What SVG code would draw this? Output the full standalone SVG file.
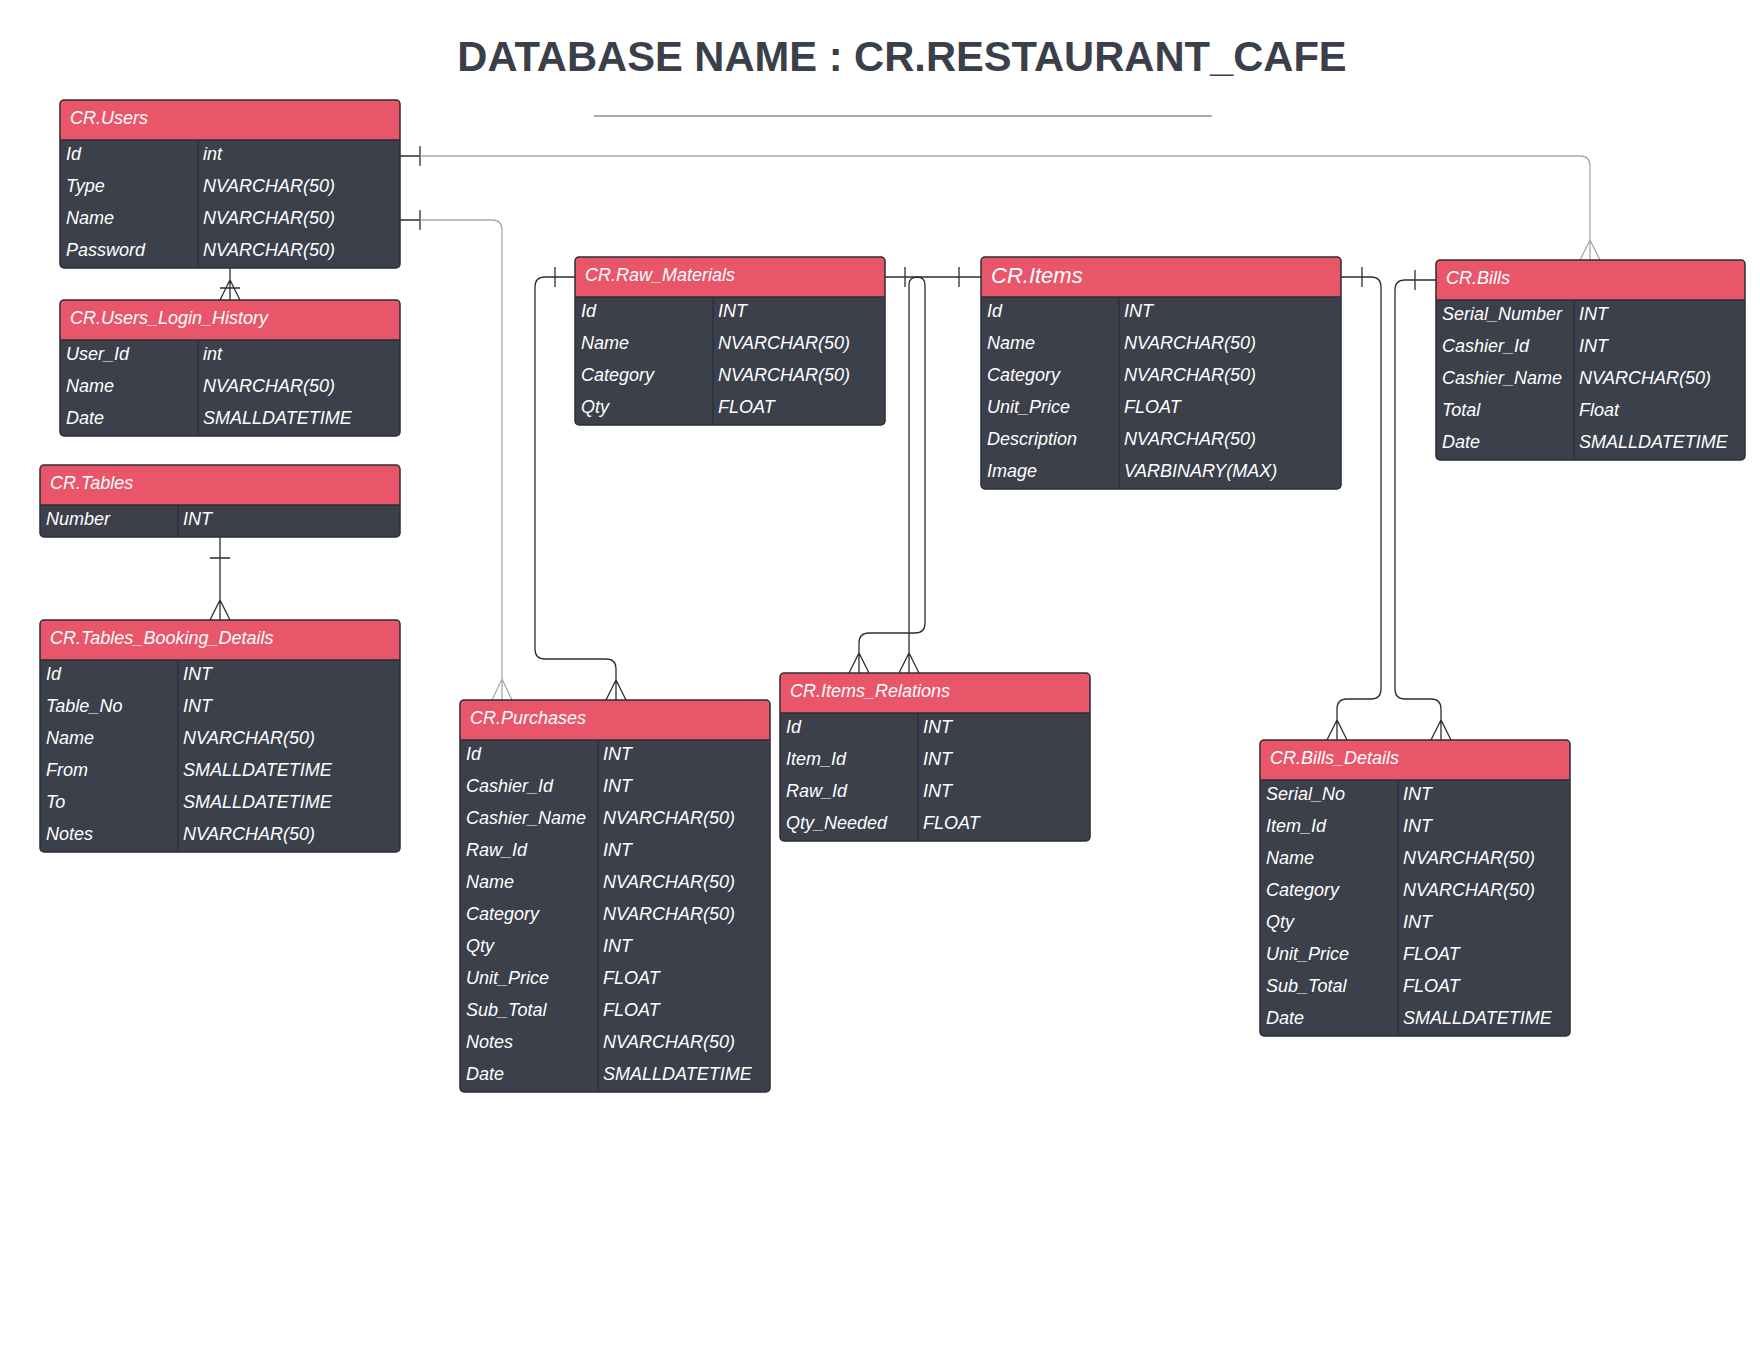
<svg xmlns="http://www.w3.org/2000/svg" width="1760" height="1360" viewBox="0 0 1760 1360">
<style>
.bg{fill:#ffffff}
.body{fill:#3c404b}
.hdr{fill:#e9566a}
.frame{fill:none;stroke:#2b2e36;stroke-width:1.5}
.sep{stroke:#2b2e36;stroke-width:1.5}
.div{stroke:#2b2e36;stroke-width:1.2}
.t{font-family:"Liberation Sans",Arial,sans-serif;font-style:italic;font-size:18px;fill:#ffffff}
.big{font-size:22px}
.title{font-family:"Liberation Sans",Arial,sans-serif;font-weight:bold;font-size:41.7px;fill:#3a3f4a}
.c{fill:none;stroke:#2b2e36;stroke-width:1.3}
.g{fill:none;stroke:#a6a9ae;stroke-width:1.3}
</style>
<rect class="bg" x="0" y="0" width="1760" height="1360"/>
<g id="title">
<text class="title" x="902" y="71" text-anchor="middle">DATABASE NAME : CR.RESTAURANT_CAFE</text>
<line x1="594" y1="116" x2="1212" y2="116" stroke="#a8adb5" stroke-width="2"/>
</g>
<g id="connectors">
<path class="c" d="M230,268 V300 M220,300 L230,280 L240,300 M220,288 H240"/>
<path class="c" d="M220,537 V620 M210,558 H230 M210,620 L220,600 L230,620"/>
<path class="c" d="M400,156 H420 M420,146 V166"/>
<path class="g" d="M420,156 H1580 Q1590,156 1590,166 V260 M1580,260 L1590,240 L1600,260"/>
<path class="c" d="M400,220 H420 M420,210 V230"/>
<path class="g" d="M420,220 H492 Q502,220 502,230 V700 M492,700 L502,679 L512,700"/>
<path class="c" d="M575,277 H545 Q535,277 535,287 V649 Q535,659 545,659 H606 Q616,659 616,669 V700 M555,267 V287 M606,700 L616,680 L626,700"/>
<path class="c" d="M885,277 H917 Q925,277 925,285 V623 Q925,633 915,633 H869 Q859,633 859,643 V673 M905,267 V287 M849,673 L859,653 L869,673"/>
<path class="c" d="M981,277 H917 Q909,277 909,285 V673 M959,267 V287 M899,673 L909,653 L919,673"/>
<path class="c" d="M1341,277 H1371 Q1381,277 1381,287 V689 Q1381,699 1371,699 H1347 Q1337,699 1337,709 V740 M1362,267 V287 M1327,740 L1337,720 L1347,740"/>
<path class="c" d="M1436,280 H1405 Q1395,280 1395,290 V689 Q1395,699 1405,699 H1431 Q1441,699 1441,709 V740 M1415,270 V290 M1431,740 L1441,720 L1451,740"/>
</g>

<g id="users">
<rect class="body" x="60" y="100" width="340" height="168" rx="4"/>
<path class="hdr" d="M60,140 V104 Q60,100 64,100 H396 Q400,100 400,104 V140 Z"/>
<line class="sep" x1="60" y1="140" x2="400" y2="140"/>
<line class="div" x1="198" y1="140" x2="198" y2="268"/>
<rect class="frame" x="60" y="100" width="340" height="168" rx="4"/>
<text class="t" x="70" y="124">CR.Users</text>
<text class="t" x="66" y="160">Id</text><text class="t" x="203" y="160">int</text>
<text class="t" x="66" y="192">Type</text><text class="t" x="203" y="192">NVARCHAR(50)</text>
<text class="t" x="66" y="224">Name</text><text class="t" x="203" y="224">NVARCHAR(50)</text>
<text class="t" x="66" y="256">Password</text><text class="t" x="203" y="256">NVARCHAR(50)</text>
</g>

<g id="users_login_history">
<rect class="body" x="60" y="300" width="340" height="136" rx="4"/>
<path class="hdr" d="M60,340 V304 Q60,300 64,300 H396 Q400,300 400,304 V340 Z"/>
<line class="sep" x1="60" y1="340" x2="400" y2="340"/>
<line class="div" x1="198" y1="340" x2="198" y2="436"/>
<rect class="frame" x="60" y="300" width="340" height="136" rx="4"/>
<text class="t" x="70" y="324">CR.Users_Login_History</text>
<text class="t" x="66" y="360">User_Id</text><text class="t" x="203" y="360">int</text>
<text class="t" x="66" y="392">Name</text><text class="t" x="203" y="392">NVARCHAR(50)</text>
<text class="t" x="66" y="424">Date</text><text class="t" x="203" y="424">SMALLDATETIME</text>
</g>

<g id="tables">
<rect class="body" x="40" y="465" width="360" height="72" rx="4"/>
<path class="hdr" d="M40,505 V469 Q40,465 44,465 H396 Q400,465 400,469 V505 Z"/>
<line class="sep" x1="40" y1="505" x2="400" y2="505"/>
<line class="div" x1="178" y1="505" x2="178" y2="537"/>
<rect class="frame" x="40" y="465" width="360" height="72" rx="4"/>
<text class="t" x="50" y="489">CR.Tables</text>
<text class="t" x="46" y="525">Number</text><text class="t" x="183" y="525">INT</text>
</g>

<g id="tables_booking_details">
<rect class="body" x="40" y="620" width="360" height="232" rx="4"/>
<path class="hdr" d="M40,660 V624 Q40,620 44,620 H396 Q400,620 400,624 V660 Z"/>
<line class="sep" x1="40" y1="660" x2="400" y2="660"/>
<line class="div" x1="178" y1="660" x2="178" y2="852"/>
<rect class="frame" x="40" y="620" width="360" height="232" rx="4"/>
<text class="t" x="50" y="644">CR.Tables_Booking_Details</text>
<text class="t" x="46" y="680">Id</text><text class="t" x="183" y="680">INT</text>
<text class="t" x="46" y="712">Table_No</text><text class="t" x="183" y="712">INT</text>
<text class="t" x="46" y="744">Name</text><text class="t" x="183" y="744">NVARCHAR(50)</text>
<text class="t" x="46" y="776">From</text><text class="t" x="183" y="776">SMALLDATETIME</text>
<text class="t" x="46" y="808">To</text><text class="t" x="183" y="808">SMALLDATETIME</text>
<text class="t" x="46" y="840">Notes</text><text class="t" x="183" y="840">NVARCHAR(50)</text>
</g>

<g id="raw_materials">
<rect class="body" x="575" y="257" width="310" height="168" rx="4"/>
<path class="hdr" d="M575,297 V261 Q575,257 579,257 H881 Q885,257 885,261 V297 Z"/>
<line class="sep" x1="575" y1="297" x2="885" y2="297"/>
<line class="div" x1="713" y1="297" x2="713" y2="425"/>
<rect class="frame" x="575" y="257" width="310" height="168" rx="4"/>
<text class="t" x="585" y="281">CR.Raw_Materials</text>
<text class="t" x="581" y="317">Id</text><text class="t" x="718" y="317">INT</text>
<text class="t" x="581" y="349">Name</text><text class="t" x="718" y="349">NVARCHAR(50)</text>
<text class="t" x="581" y="381">Category</text><text class="t" x="718" y="381">NVARCHAR(50)</text>
<text class="t" x="581" y="413">Qty</text><text class="t" x="718" y="413">FLOAT</text>
</g>

<g id="items">
<rect class="body" x="981" y="257" width="360" height="232" rx="4"/>
<path class="hdr" d="M981,297 V261 Q981,257 985,257 H1337 Q1341,257 1341,261 V297 Z"/>
<line class="sep" x1="981" y1="297" x2="1341" y2="297"/>
<line class="div" x1="1119" y1="297" x2="1119" y2="489"/>
<rect class="frame" x="981" y="257" width="360" height="232" rx="4"/>
<text class="t big" x="991" y="283">CR.Items</text>
<text class="t" x="987" y="317">Id</text><text class="t" x="1124" y="317">INT</text>
<text class="t" x="987" y="349">Name</text><text class="t" x="1124" y="349">NVARCHAR(50)</text>
<text class="t" x="987" y="381">Category</text><text class="t" x="1124" y="381">NVARCHAR(50)</text>
<text class="t" x="987" y="413">Unit_Price</text><text class="t" x="1124" y="413">FLOAT</text>
<text class="t" x="987" y="445">Description</text><text class="t" x="1124" y="445">NVARCHAR(50)</text>
<text class="t" x="987" y="477">Image</text><text class="t" x="1124" y="477">VARBINARY(MAX)</text>
</g>

<g id="bills">
<rect class="body" x="1436" y="260" width="309" height="200" rx="4"/>
<path class="hdr" d="M1436,300 V264 Q1436,260 1440,260 H1741 Q1745,260 1745,264 V300 Z"/>
<line class="sep" x1="1436" y1="300" x2="1745" y2="300"/>
<line class="div" x1="1574" y1="300" x2="1574" y2="460"/>
<rect class="frame" x="1436" y="260" width="309" height="200" rx="4"/>
<text class="t" x="1446" y="284">CR.Bills</text>
<text class="t" x="1442" y="320">Serial_Number</text><text class="t" x="1579" y="320">INT</text>
<text class="t" x="1442" y="352">Cashier_Id</text><text class="t" x="1579" y="352">INT</text>
<text class="t" x="1442" y="384">Cashier_Name</text><text class="t" x="1579" y="384">NVARCHAR(50)</text>
<text class="t" x="1442" y="416">Total</text><text class="t" x="1579" y="416">Float</text>
<text class="t" x="1442" y="448">Date</text><text class="t" x="1579" y="448">SMALLDATETIME</text>
</g>

<g id="purchases">
<rect class="body" x="460" y="700" width="310" height="392" rx="4"/>
<path class="hdr" d="M460,740 V704 Q460,700 464,700 H766 Q770,700 770,704 V740 Z"/>
<line class="sep" x1="460" y1="740" x2="770" y2="740"/>
<line class="div" x1="598" y1="740" x2="598" y2="1092"/>
<rect class="frame" x="460" y="700" width="310" height="392" rx="4"/>
<text class="t" x="470" y="724">CR.Purchases</text>
<text class="t" x="466" y="760">Id</text><text class="t" x="603" y="760">INT</text>
<text class="t" x="466" y="792">Cashier_Id</text><text class="t" x="603" y="792">INT</text>
<text class="t" x="466" y="824">Cashier_Name</text><text class="t" x="603" y="824">NVARCHAR(50)</text>
<text class="t" x="466" y="856">Raw_Id</text><text class="t" x="603" y="856">INT</text>
<text class="t" x="466" y="888">Name</text><text class="t" x="603" y="888">NVARCHAR(50)</text>
<text class="t" x="466" y="920">Category</text><text class="t" x="603" y="920">NVARCHAR(50)</text>
<text class="t" x="466" y="952">Qty</text><text class="t" x="603" y="952">INT</text>
<text class="t" x="466" y="984">Unit_Price</text><text class="t" x="603" y="984">FLOAT</text>
<text class="t" x="466" y="1016">Sub_Total</text><text class="t" x="603" y="1016">FLOAT</text>
<text class="t" x="466" y="1048">Notes</text><text class="t" x="603" y="1048">NVARCHAR(50)</text>
<text class="t" x="466" y="1080">Date</text><text class="t" x="603" y="1080">SMALLDATETIME</text>
</g>

<g id="items_relations">
<rect class="body" x="780" y="673" width="310" height="168" rx="4"/>
<path class="hdr" d="M780,713 V677 Q780,673 784,673 H1086 Q1090,673 1090,677 V713 Z"/>
<line class="sep" x1="780" y1="713" x2="1090" y2="713"/>
<line class="div" x1="918" y1="713" x2="918" y2="841"/>
<rect class="frame" x="780" y="673" width="310" height="168" rx="4"/>
<text class="t" x="790" y="697">CR.Items_Relations</text>
<text class="t" x="786" y="733">Id</text><text class="t" x="923" y="733">INT</text>
<text class="t" x="786" y="765">Item_Id</text><text class="t" x="923" y="765">INT</text>
<text class="t" x="786" y="797">Raw_Id</text><text class="t" x="923" y="797">INT</text>
<text class="t" x="786" y="829">Qty_Needed</text><text class="t" x="923" y="829">FLOAT</text>
</g>

<g id="bills_details">
<rect class="body" x="1260" y="740" width="310" height="296" rx="4"/>
<path class="hdr" d="M1260,780 V744 Q1260,740 1264,740 H1566 Q1570,740 1570,744 V780 Z"/>
<line class="sep" x1="1260" y1="780" x2="1570" y2="780"/>
<line class="div" x1="1398" y1="780" x2="1398" y2="1036"/>
<rect class="frame" x="1260" y="740" width="310" height="296" rx="4"/>
<text class="t" x="1270" y="764">CR.Bills_Details</text>
<text class="t" x="1266" y="800">Serial_No</text><text class="t" x="1403" y="800">INT</text>
<text class="t" x="1266" y="832">Item_Id</text><text class="t" x="1403" y="832">INT</text>
<text class="t" x="1266" y="864">Name</text><text class="t" x="1403" y="864">NVARCHAR(50)</text>
<text class="t" x="1266" y="896">Category</text><text class="t" x="1403" y="896">NVARCHAR(50)</text>
<text class="t" x="1266" y="928">Qty</text><text class="t" x="1403" y="928">INT</text>
<text class="t" x="1266" y="960">Unit_Price</text><text class="t" x="1403" y="960">FLOAT</text>
<text class="t" x="1266" y="992">Sub_Total</text><text class="t" x="1403" y="992">FLOAT</text>
<text class="t" x="1266" y="1024">Date</text><text class="t" x="1403" y="1024">SMALLDATETIME</text>
</g>
</svg>
